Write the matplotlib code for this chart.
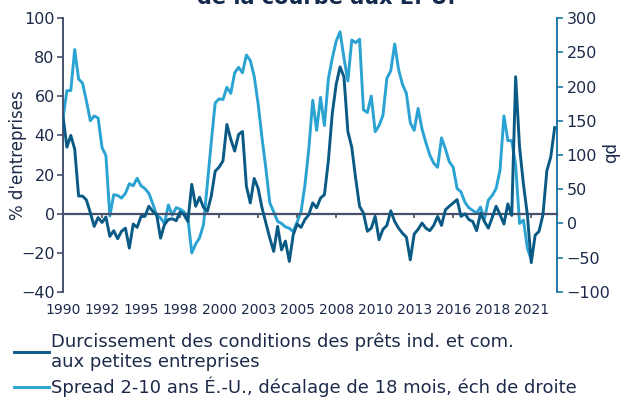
import numpy as np
import matplotlib
matplotlib.use("Agg")
import matplotlib.pyplot as plt

# Données trimestrielles (1990 -> 2021)
durcissement = [
    50, 34, 40, 33, 9, 9, 7, 0.5, -6.5, -2, -4.5, -1.7, -11.6, -8.7, -12.8, -9, -7.4, -17.6, -5.3, -7,
    -1.4, -1.4, 3.8, 1.2, -0.5, -12.5, -5.6, -3, -2.6, -3.6, 0.9, -0.5, -4,
    15, 3.8, 8.4, 3.2, 1.2, 9, 21.7, 23.8, 27, 45.6, 38, 32, 40.5, 42, 14, 5.5, 18, 13, 3, -4.8,
    -12.5, -19.3, -6.5, -18.5, -14,
    -24.4, -10.8, -5.3, -7, -3, -0.5, 5.5, 3, 8, 9.7, 27, 51, 66, 75, 70, 42, 34, 18, 3.8, 0.3,
    -9, -7.4, -1.4, -13.3, -8, -6, 1.5, -4, -7.4, -10, -12, -23.6, -10.4, -8, -4.8, -7.4, -8.7, -6, -1.4, -6,
    2, 3.8, 5.5, 7.2, -1.4, 0, -3, -4, -8.7, 0.3, -4, -7.4, -2, 3.8, -0.5, -5.3, 5, -0.9,
    70, 34, 15, -0.5, -25, -11, -9, -0.5, 22, 29, 44,
]

spread = [
    153, 194, 194, 254, 211, 205, 179, 150, 157, 154, 111, 99, 11, 42, 41, 37, 44, 58, 55, 66,
    55, 51, 44, 29, 12, 8, 0, 27, 12, 23, 21, 17, 8,
    -43, -30, -21, -2, 58, 119, 176, 182, 181, 199, 190, 220, 228, 220, 246, 238, 215, 175, 125,
    80, 30, 17, 3, 0, -5, -7, -12, 2, 17, 56, 109,
    180, 136, 184, 143, 211, 241, 266, 280, 242, 208, 268, 264, 269, 166, 162, 186, 134, 143, 158,
    212, 223, 262, 225, 203, 190, 147, 136, 168, 138, 118, 100, 88, 82,
    125, 109, 90, 82, 51, 46, 31, 23, 19, 15, 24, 6, 34, 41, 51, 78, 157, 121, 121, 85, 0, 5, -36, -53,
]

tick_labels = ["1990", "1992", "1995", "1998", "2000", "2003", "2005",
               "2008", "2010", "2013", "2016", "2018", "2021"]

label_dark = "Durcissement des conditions des prêts ind. et com.\naux petites entreprises"
label_light = "Spread 2-10 ans É.-U., décalage de 18 mois, éch de droite"

navy = "#1c2a4a"
slate = "#46506c"
dark_blue = "#0a5a86"
light_blue = "#2aa3d2"
right_blue = "#1f78aa"

fig = plt.figure(figsize=(6.2, 4.01), dpi=100)
ax = fig.add_axes([0.1016, 0.272, 0.7968, 0.683])
ax2 = ax.twinx()

x_dark = np.arange(len(durcissement))
x_light = np.arange(len(spread))

ax.plot(x_dark, durcissement, color=dark_blue, lw=2.1, label=label_dark, zorder=3)
ax2.plot(x_light, spread, color=light_blue, lw=2.1, label=label_light)

ax.set_zorder(ax2.get_zorder() + 1)
ax.patch.set_visible(False)

ax.set_xlim(0, 126.6)
ax.set_ylim(-40, 100)
ax2.set_ylim(-100, 300)

ax.set_yticks(np.arange(-40, 101, 20))
ax2.set_yticks(np.arange(-100, 301, 50))
ax.set_xticks(np.arange(0, 121, 10))
ax.set_xticklabels(tick_labels, family=["Liberation Sans Narrow", "DejaVu Sans"],
                   fontsize=13.5, color=navy)

for a in (ax, ax2):
    a.spines["top"].set_visible(False)
ax.spines["right"].set_visible(False)
ax2.spines["left"].set_visible(False)
ax2.spines["bottom"].set_visible(False)

ax.spines["left"].set_color(slate)
ax.spines["left"].set_linewidth(1.4)
ax.spines["bottom"].set_position(("data", 0))
ax.spines["bottom"].set_color(slate)
ax.spines["bottom"].set_linewidth(1.6)
ax2.spines["right"].set_color(right_blue)
ax2.spines["right"].set_linewidth(1.4)

ax.tick_params(axis="y", colors=slate, labelcolor=navy, labelsize=11.5, length=4, width=1.2, pad=2)
ax2.tick_params(axis="y", colors=right_blue, labelcolor=navy, labelsize=11.5, length=4, width=1.2, pad=3)
ax.tick_params(axis="x", colors=slate, labelcolor=navy, length=3, width=1.2, pad=61)

ax.set_ylabel("% d'entreprises", fontsize=12, color=navy, va="center", ha="center")
ax.yaxis.set_label_coords(-0.092, 0.5)
ax2.set_ylabel("pb", fontsize=12, color=navy, rotation=270, va="center", ha="center")
ax2.yaxis.set_label_coords(1.105, 0.5)

fig.text(0.526, 0.99, "de la courbe aux É.-U.", ha="center", va="baseline",
         fontsize=15, fontweight="bold", color="#12294d")

handles = ax.get_lines()[:1] + ax2.get_lines()[:1]
fig.legend(handles, [label_dark, label_light], loc="lower left",
           bbox_to_anchor=(0.0, -0.027), frameon=False, fontsize=13,
           labelcolor=navy, handlelength=1.9, handletextpad=0.15,
           borderaxespad=0.3, borderpad=0.5, labelspacing=0.3)

fig.savefig("out.png", dpi=100)
